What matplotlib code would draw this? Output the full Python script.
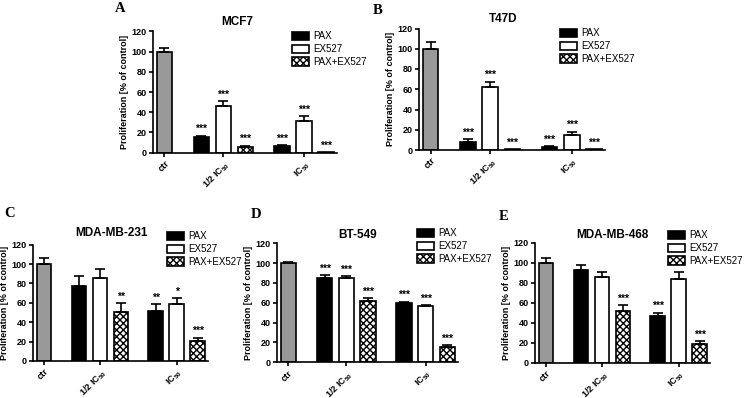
import numpy as np
import matplotlib as mpl
mpl.use('Agg')
import matplotlib.pyplot as plt

plt.rcParams['font.family'] = ['Liberation Sans', 'DejaVu Sans']
plt.rcParams['mathtext.fontset'] = 'custom'
plt.rcParams['mathtext.rm'] = 'Liberation Sans:bold'
plt.rcParams['mathtext.bf'] = 'Liberation Sans:bold'
plt.rcParams['mathtext.it'] = 'Liberation Sans:bold'
plt.rcParams['mathtext.default'] = 'bf'
plt.rcParams['hatch.linewidth'] = 1.0

# data
cell_lines = ['MCF7', 'T47D', 'MDA-MB-231', 'BT-549', 'MDA-MB-468']
letters = ['A', 'B', 'C', 'D', 'E']
series = ['PAX', 'EX527', 'PAX+EX527']
xlabels = ['ctr', '1/2 IC$_{50}$', 'IC$_{50}$']

ctr_mean = [100, 100, 100, 100, 100]
ctr_err = [3.5, 7, 6, 1, 5]

# per panel: [PAX, EX527, PAX+EX527]
half_mean = [[16, 46.5, 6], [7.5, 62, 0.5], [77, 86, 51], [85, 85, 62], [93, 86, 52]]
half_err = [[1, 4.5, 1], [3, 5.5, 0], [10.5, 9, 8.5], [3, 2, 2.5], [5, 4.5, 5.5]]
ic_mean = [[7, 31, 0.5], [3, 15, 0.5], [51.5, 58.5, 21], [59.5, 57, 15], [47, 84, 19]]
ic_err = [[0.5, 5, 0], [1, 3, 0], [7, 6.5, 3], [1.5, 0.5, 2], [3, 6.5, 2.5]]

half_stars = [['***', '***', '***'], ['***', '***', '***'], ['', '', '**'],
              ['***', '***', '***'], ['', '', '***']]
ic_stars = [['***', '***', '***'], ['***', '***', '***'], ['**', '*', '***'],
            ['***', '***', '***'], ['***', '', '***']]

# layout (pixels in a 745x398 image)
W, H = 745.0, 398.0
ax_px = [(153, 152.7, 184, 121.2), (419, 150, 186, 121.5), (33, 361, 175, 116.3),
         (277, 362.3, 181, 119), (535, 362.7, 175, 120)]
title_px = [(237, 22), (503, 19), (111, 233), (358, 235), (612, 235)]
legend_px = [(292, 31), (560, 28), (167, 231), (417, 228), (668, 230)]
letter_px = [(120, 8), (378, 10), (10, 213), (256, 215), (504, 216)]

pos_ctr = 0
pos_half = [1.67, 2.67, 3.67]
pos_ic = [5.33, 6.33, 7.33]
bw = 0.7
faces = ['black', 'white', 'white']
hatches = [None, None, 'xxxxx']
lw = 1.2

fig = plt.figure(figsize=(W / 100, H / 100), dpi=100)

for i in range(5):
    l, b, w, h = ax_px[i]
    ax = fig.add_axes([l / W, 1 - b / H, w / W, h / H])

    ax.bar(pos_ctr, ctr_mean[i], bw, color='#999999', edgecolor='black', linewidth=lw)
    ax.errorbar(pos_ctr, ctr_mean[i], yerr=[[0], [ctr_err[i]]], fmt='none', ecolor='black',
                elinewidth=lw, capsize=3.5, capthick=lw)
    handles = []
    for j in range(3):
        for pos, m, e, st in [(pos_half[j], half_mean[i][j], half_err[i][j], half_stars[i][j]),
                              (pos_ic[j], ic_mean[i][j], ic_err[i][j], ic_stars[i][j])]:
            bc = ax.bar(pos, m, bw, color=faces[j], edgecolor='black', linewidth=lw,
                        hatch=hatches[j], label=series[j])
            if e > 0:
                ax.errorbar(pos, m, yerr=[[0], [e]], fmt='none', ecolor='black',
                            elinewidth=lw, capsize=3.5, capthick=lw)
            if st:
                ax.text(pos, m + e + 1.5, st, ha='center', va='bottom', fontsize=7.5,
                        fontweight='bold')
        handles.append(bc)

    ax.set_xlim(-0.52, 7.82)
    ax.set_ylim(0, 120)
    ax.set_yticks([0, 20, 40, 60, 80, 100, 120])
    ax.set_xticks([pos_ctr, pos_half[1], pos_ic[1]])
    ax.set_xticklabels(xlabels, rotation=45, ha='right', rotation_mode='anchor',
                       fontsize=6.5, fontweight='bold')
    for t in ax.get_yticklabels():
        t.set_fontweight('bold')
    ax.tick_params(axis='both', direction='out', length=3, width=lw, labelsize=6.5, pad=1.5)
    ax.spines['top'].set_visible(False)
    ax.spines['right'].set_visible(False)
    ax.spines['left'].set_linewidth(lw)
    ax.spines['bottom'].set_linewidth(lw)
    ax.set_ylabel('Proliferation [% of control]', fontsize=6.5, fontweight='bold', labelpad=2)

    tx, ty = title_px[i]
    fig.text(tx / W, 1 - ty / H, cell_lines[i], ha='center', va='center', fontsize=8.5,
             fontweight='bold')
    lx, ly = letter_px[i]
    fig.text(lx / W, 1 - ly / H, letters[i], ha='center', va='center', fontsize=10.5,
             fontweight='bold', family='Liberation Serif')
    gx, gy = legend_px[i]
    ax.legend(handles, series, loc='upper left', bbox_to_anchor=(gx / W, 1 - gy / H),
              bbox_transform=fig.transFigure, frameon=False, fontsize=7, borderpad=0,
              borderaxespad=0, handlelength=1.7, handleheight=0.9, handletextpad=0.5,
              labelspacing=0.3)

fig.savefig('out.png', dpi=100)
